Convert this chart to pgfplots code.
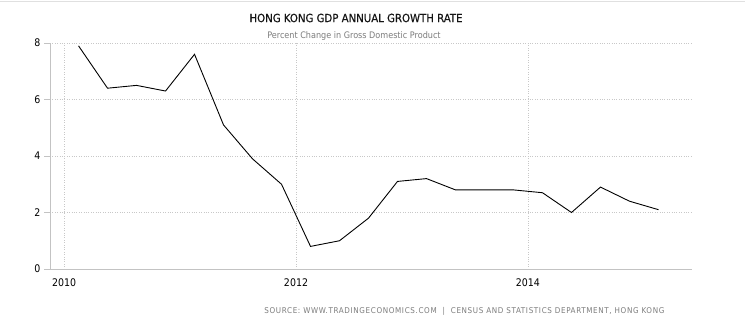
\documentclass[border=0pt]{standalone}
\usepackage{fontspec}
\setmainfont{DejaVu Sans Condensed}
\usepackage{pgfplots}
\pgfplotsset{compat=1.18}
\definecolor{gridc}{RGB}{200,200,200}
\definecolor{axisc}{RGB}{195,195,195}
\definecolor{subc}{RGB}{125,125,125}
\definecolor{titc}{RGB}{20,20,20}
\begin{document}
\begin{tikzpicture}
\path[use as bounding box] (0,0) rectangle (745pt,-323pt);
\fill[white] (0,0) rectangle (745pt,-323pt);
\draw[color=black!12, line width=1.2pt] (0,-1.5pt) -- (745pt,-1.5pt);
\begin{axis}[
 at={(50pt,-269pt)}, anchor=south west,
 scale only axis, width=642pt, height=226pt,
 xmin=2009.879, xmax=2015.414, ymin=0, ymax=8,
 axis x line*=bottom, axis y line*=left,
 axis line style={axisc, line width=0.8pt},
 xtick={2010,2012,2014}, ytick={0,2,4,6,8},
 grid=major, major grid style={gridc, dotted, line width=0.6pt},
 x tick label style={/pgf/number format/1000 sep={}},
 /pgf/number format/assume math mode=true,
 tick label style={font=\fontsize{10.5}{12}\selectfont, black},
 x tick style={draw=none}, y tick style={axisc, line width=0.8pt},
 tick align=outside, major tick length=6pt,
 clip=false,
]
\addplot[black, line width=0.9pt] coordinates {
(2010.125,7.9) (2010.375,6.4) (2010.625,6.5) (2010.875,6.3)
(2011.125,7.6) (2011.375,5.1) (2011.625,3.9) (2011.875,3.0)
(2012.125,0.8) (2012.375,1.0) (2012.625,1.8) (2012.875,3.1)
(2013.125,3.2) (2013.375,2.8) (2013.625,2.8) (2013.875,2.8)
(2014.125,2.7) (2014.375,2.0) (2014.625,2.9) (2014.875,2.4)
(2015.125,2.1)
};
\end{axis}
\node[titc, font=\fontsize{11.3}{13}\selectfont\addfontfeature{FakeBold=0.4}] at (356pt,-18pt) {HONG KONG GDP ANNUAL GROWTH RATE};
\node[subc, font=\fontsize{9}{11}\selectfont] at (354pt,-36pt) {Percent Change in Gross Domestic Product};
\node[subc, font=\fontsize{8}{10}\selectfont\addfontfeature{LetterSpace=8}, anchor=east] at (668pt,-311pt) {SOURCE: WWW.TRADINGECONOMICS.COM \ | \ CENSUS AND STATISTICS DEPARTMENT, HONG KONG};
\end{tikzpicture}
\end{document}
